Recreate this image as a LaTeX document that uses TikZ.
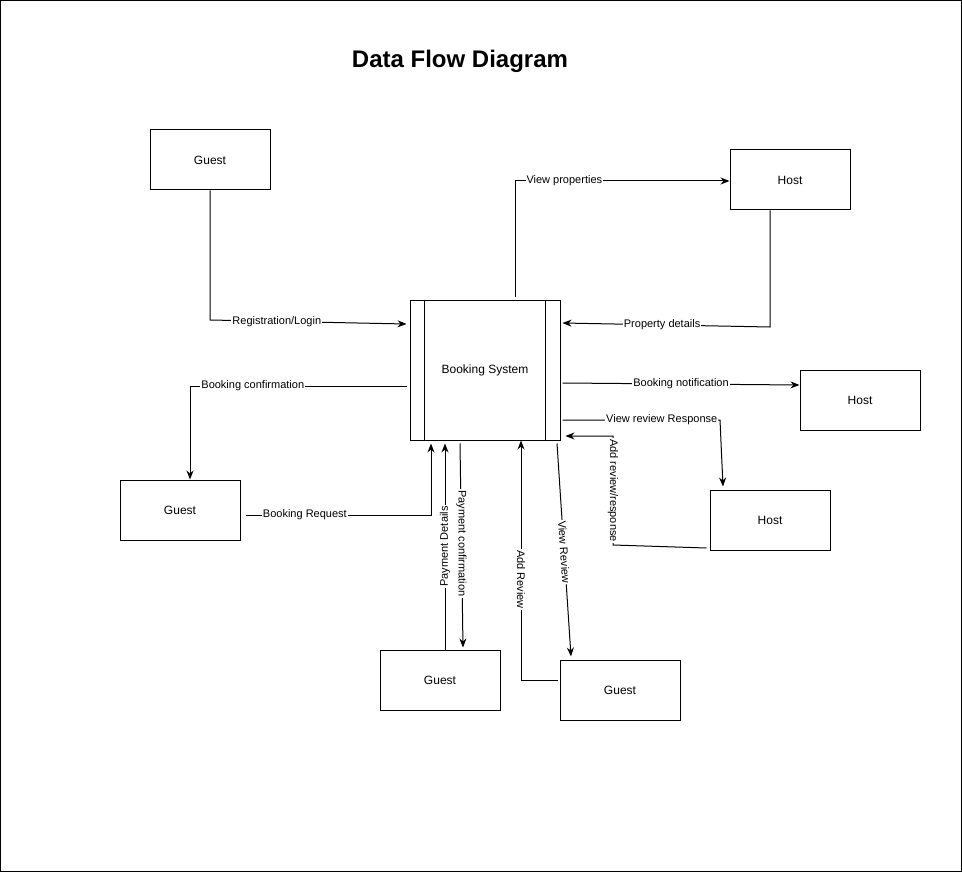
\documentclass[tikz,border=0pt]{standalone}
\usepackage{fontspec}
\setmainfont{Liberation Sans}
\usetikzlibrary{arrows.meta}

\begin{document}
\begin{tikzpicture}[x=1pt, y=-1pt, line width=1pt, font=\fontsize{12}{14}\selectfont,
    entity/.style={draw, minimum width=120pt, minimum height=60pt, inner sep=0pt},
    flow/.style={-{Stealth[length=9pt, width=7pt]}},
    lbl/.style={fill=white, inner sep=1pt, font=\fontsize{11}{13}\selectfont}]
    \useasboundingbox (0,0) rectangle (962,872);
    \draw (0.5,0.5) rectangle (961.5,871.5);
    \node[font=\fontsize{24}{28}\selectfont\bfseries] (title) at (460,61) {Data Flow Diagram};
    % process
    \node[draw, minimum width=150pt, minimum height=140pt, inner sep=0pt] (bs) at (485,370) {Booking System};
    \draw ([xshift=15pt]bs.north west) -- ([xshift=15pt]bs.south west);
    \draw ([xshift=-15pt]bs.north east) -- ([xshift=-15pt]bs.south east);
    % external entities
    \node[entity] (g1) at (210,160) {Guest};
    \node[entity] (h1) at (790,180) {Host};
    \node[entity] (h2) at (860,400) {Host};
    \node[entity] (g2) at (180,510) {Guest};
    \node[entity] (h3) at (770,520) {Host};
    \node[entity] (g3) at (440,680) {Guest};
    \node[entity] (g4) at (620,690) {Guest};
    % flows
    \draw[flow] (g1.south) -- (210,320) -- node[lbl, pos=0.34]{Registration/Login} ([xshift=-3pt, yshift=46pt]bs.west);
    \draw[flow] ([xshift=30pt, yshift=3pt]bs.north) -- (515,181) -- node[lbl, pos=0.23]{View properties} ([yshift=-1pt]h1.west);
    \draw[flow] ([xshift=-20pt]h1.south) -- (770,327) -- node[lbl, pos=0.52]{Property details} ([xshift=2pt, yshift=47pt]bs.east);
    \draw[flow] ([xshift=-3pt, yshift=-16pt]bs.west) -- node[lbl, pos=0.71]{Booking confirmation} (190,386) -- ([xshift=10pt]g2.north);
    \draw[flow] ([xshift=5pt, yshift=-5pt]g2.east) -- node[lbl, pos=0.32]{Booking Request} (431,515) -- ([xshift=-54pt, yshift=-3pt]bs.south);
    \draw[flow] ([xshift=2pt, yshift=-13pt]bs.east) -- node[lbl, pos=0.5]{Booking notification} ([yshift=15pt]h2.west);
    \draw[flow] ([xshift=2pt, yshift=-50pt]bs.east) -- node[lbl, pos=0.63]{View review Response} (720,420) -- ([xshift=-47pt, yshift=3pt]h3.north);
    \draw[flow] ([xshift=-3pt, yshift=-28pt]h3.west) -- (613,545) -- node[lbl, rotate=-90, pos=0.5]{Add review/response} (613,436) -- ([xshift=5pt, yshift=-66pt]bs.east);
    \draw[flow] ([xshift=5pt]g3.north) -- node[lbl, rotate=90, pos=0.5]{Payment Details} ([xshift=-40pt, yshift=-3pt]bs.south);
    \draw[flow] ([xshift=-25pt, yshift=-3pt]bs.south) -- node[lbl, rotate=-90, pos=0.49]{Payment confirmation} ([xshift=23pt, yshift=2pt]g3.north);
    \draw[flow] ([xshift=-2pt, yshift=10pt]g4.west) -- (521,680) -- node[lbl, rotate=-90, pos=0.42]{Add Review} ([xshift=36pt]bs.south);
    \draw[flow] ([xshift=72pt, yshift=-3pt]bs.south) -- node[lbl, sloped, pos=0.51]{View Review} ([xshift=-49pt, yshift=3pt]g4.north);
\end{tikzpicture}
\end{document}
